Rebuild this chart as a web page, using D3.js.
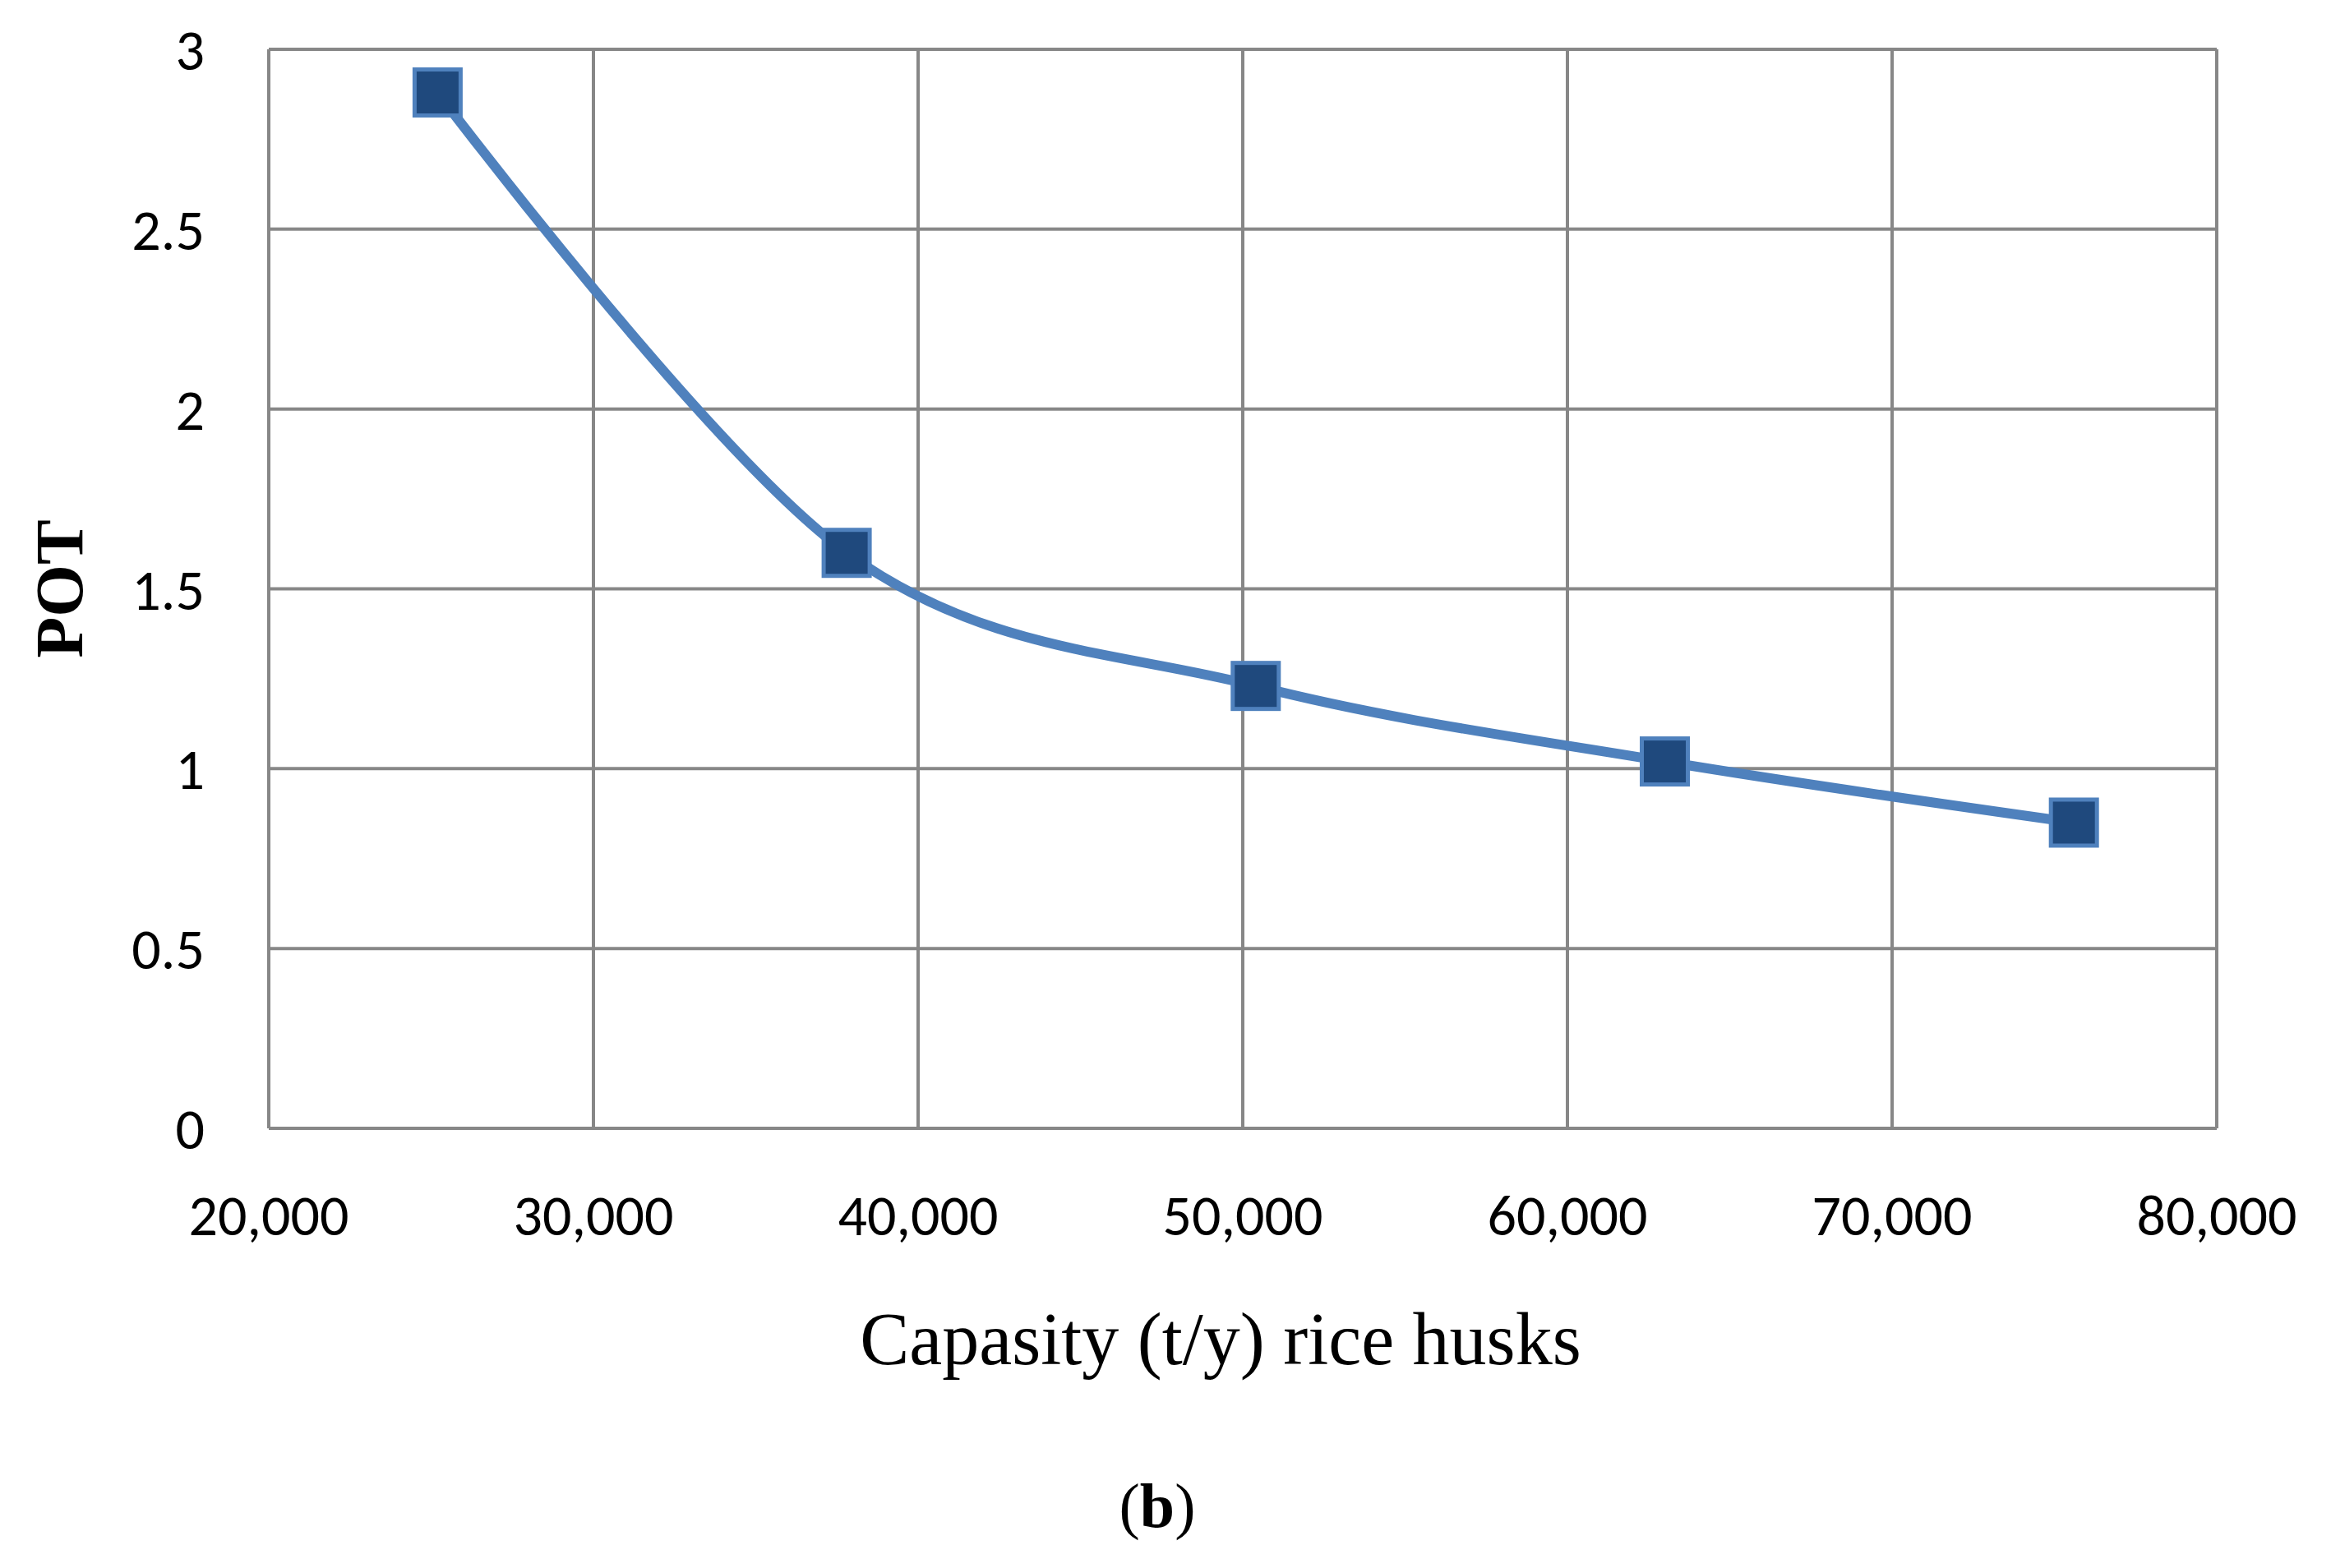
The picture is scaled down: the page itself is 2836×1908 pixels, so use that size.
<!DOCTYPE html>
<html><head><meta charset="utf-8">
<script src="https://cdn.jsdelivr.net/npm/d3@7"></script>
<style>body{margin:0;background:#fff}</style></head>
<body><svg id="c" width="2836" height="1908"></svg>
<script>
const capacity = [25200, 37800, 50400, 63000, 75600];
const pot = [2.88, 1.6, 1.23, 1.02, 0.85];
const xTicks = [20000, 30000, 40000, 50000, 60000, 70000, 80000];
const yTicks = [0, 0.5, 1, 1.5, 2, 2.5, 3];

const svg = d3.select("#c");
const L = 327, R = 2697, T = 60, B = 1373;
const x = d3.scaleLinear().domain([20000, 80000]).range([L, R]);
const y = d3.scaleLinear().domain([0, 3]).range([B, T]);
const g = svg.append("g");
g.selectAll(".vx").data(xTicks).join("line")
  .attr("x1", d => x(d)).attr("x2", d => x(d)).attr("y1", T).attr("y2", B)
  .attr("stroke", "#878787").attr("stroke-width", 4);
g.selectAll(".hy").data(yTicks).join("line")
  .attr("x1", L).attr("x2", R).attr("y1", d => y(d)).attr("y2", d => y(d))
  .attr("stroke", "#878787").attr("stroke-width", 4);
const fmt = d3.format(",");
g.selectAll(".xl").data(xTicks).join("text")
  .attr("x", d => x(d)).attr("y", B + 130).attr("text-anchor", "middle")
  .attr("font-family", "Carlito, 'Open Sans', sans-serif").attr("font-size", 70)
  .text(d => fmt(d));
g.selectAll(".yl").data(yTicks).join("text")
  .attr("x", L - 78).attr("y", d => y(d) + 25).attr("text-anchor", "end")
  .attr("font-family", "Carlito, 'Open Sans', sans-serif").attr("font-size", 70)
  .text(d => d);
const pts = capacity.map((c, i) => [c, pot[i]]);
g.append("path").datum(pts)
  .attr("d", d3.line().x(d => x(d[0])).y(d => y(d[1])).curve(d3.curveCatmullRom.alpha(0)))
  .attr("fill", "none").attr("stroke", "#4f81bd").attr("stroke-width", 12);
const s = 56;
g.selectAll(".m").data(pts).join("rect")
  .attr("x", d => x(d[0]) - s/2).attr("y", d => y(d[1]) - s/2)
  .attr("width", s).attr("height", s)
  .attr("fill", "#1f497d").attr("stroke", "#4f81bd").attr("stroke-width", 5);
svg.append("text").attr("x", 1485).attr("y", 1660).attr("text-anchor", "middle")
  .attr("font-family", "'Liberation Serif', serif").attr("font-size", 90)
  .text("Capasity (t/y) rice husks");
svg.append("text").attr("transform", `translate(100,${(T + B) / 2}) rotate(-90)`)
  .attr("text-anchor", "middle").attr("font-family", "'Liberation Serif', serif")
  .attr("font-size", 82).attr("font-weight", "bold").text("POT");
const b = svg.append("text").attr("x", 1408).attr("y", 1858).attr("text-anchor", "middle")
  .attr("font-family", "'Liberation Serif', serif").attr("font-size", 76);
b.append("tspan").text("(");
b.append("tspan").attr("font-weight", "bold").text("b");
b.append("tspan").text(")");
</script></body></html>
